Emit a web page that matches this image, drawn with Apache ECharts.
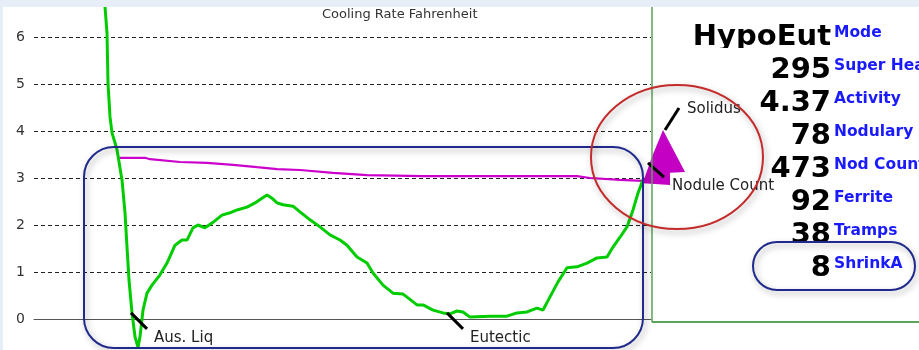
<!DOCTYPE html>
<html>
<head>
<meta charset="utf-8">
<script src="https://cdn.jsdelivr.net/npm/echarts@6/dist/echarts.min.js"></script>
<style>
html,body{margin:0;padding:0;background:#fff;overflow:hidden;width:919px;height:350px;}
#chart{position:absolute;left:0;top:-20px;width:919px;height:400px;}
</style>
</head>
<body>
<div id="chart"></div>
<script>
// ---- data ----
// cooling-rate curve (time index, °F per unit time)
const coolTime = [68,71,73,74,76,78,81,83,88,91,93,95,98,101,104,106,109,113,118,126,133,141,148,153,159,164,171,178,188,196,203,213,221,228,233,238,243,249,259,266,276,286,296,306,313,323,333,339,349,359,369,374,383,389,399,409,416,423,429,436,456,473,483,493,503,509,516,524,533,543,553,563,573,579,586,593,599,604,609];
const coolRate = [7.1,6.64,6.09,5.02,4.30,3.96,3.75,3.60,2.96,2.26,1.53,0.83,0.13,-0.38,-0.60,-0.38,0.19,0.55,0.72,0.94,1.19,1.57,1.68,1.68,1.94,2.00,1.94,2.04,2.21,2.26,2.32,2.38,2.47,2.57,2.64,2.57,2.47,2.43,2.40,2.28,2.11,1.96,1.79,1.68,1.57,1.32,1.19,0.98,0.72,0.55,0.53,0.45,0.30,0.30,0.19,0.13,0.11,0.17,0.15,0.04,0.06,0.06,0.13,0.15,0.23,0.19,0.47,0.79,1.09,1.11,1.19,1.30,1.32,1.53,1.74,1.96,2.32,2.68,2.96];
// magenta reference line
const refTime = [83,111,116,146,173,199,223,243,266,299,333,389,543,556,586,609];
const refRate = [3.43,3.43,3.40,3.34,3.32,3.28,3.23,3.19,3.17,3.11,3.06,3.04,3.04,3.00,2.96,2.94];
// small green tail after nodule count
const tailTime = [673,683,689,697];
const tailRate = [2.60,2.47,2.40,2.38];
// magenta solidus triangle
const triTime = [609,618,629,651,636,636,609];
const triRate = [2.91,3.45,4.02,3.13,3.11,2.85,2.89];
const triEdgeTime = [629,652];
const triEdgeRate = [4.02,3.13];
// event tick marks [x1,y1,x2,y2]
const tickNames = ['Aus. Liq','Eutectic','Solidus','Nodule Count'];
const tickMarks = [[97,0.13,113,-0.21],[413,0.13,429,-0.21],[631,4.02,645,4.49],[614,3.32,630,3.02]];
// y axis
const yMin = -1, yMax = 7, yStep = 1;
// results panel
const panelValues = ['HypoEut','295','4.37','78','473','92','38','8'];
const panelLabels = ['Mode','Super Heat','Activity','Nodulary','Nod Count','Ferrite','Tramps','ShrinkA'];
const chartTitle = 'Cooling Rate Fahrenheit';

// ---- build ----
const zip = (a,b)=>a.map((v,i)=>[v,b[i]]);
const chart = echarts.init(document.getElementById('chart'), null, {renderer:'canvas'});

const g = [];
// title
g.push({type:'text', z:50, style:{text:chartTitle, x:322, y:15, font:'13px "DejaVu Sans"', fill:'#333', verticalAlign:'middle'}});
// event labels
const lblPos = [[154,338],[470,338],[687,109],[672,186]];
tickNames.forEach((t,i)=>g.push({type:'text', z:50, style:{text:t, x:lblPos[i][0], y:lblPos[i][1], font:'15px "DejaVu Sans"', fill:'#222', verticalAlign:'middle'}}));
// panel border lines
g.push({type:'line', z:40, shape:{x1:652,y1:7,x2:652,y2:322}, style:{stroke:'#5aa55a', lineWidth:1.5}});
g.push({type:'line', z:40, shape:{x1:652,y1:322,x2:919,y2:322}, style:{stroke:'#5aa55a', lineWidth:2}});
// panel texts
panelValues.forEach((v,i)=>{
  const base = 47 + 33*i;
  g.push({type:'text', z:50, style:{text:v, x:831, y:base-10, font:'bold 29px "DejaVu Sans"', fill:'#000', align:'right', verticalAlign:'middle'}});
  g.push({type:'text', z:52, style:{text:panelLabels[i], x:834, y:base-14.5, font:'bold 15.5px "DejaVu Sans"', fill:'#1a1aff', align:'left', verticalAlign:'middle'}});
});
// clip HypoEut descenders
g.push({type:'rect', z:51, shape:{x:688,y:48,width:145,height:8}, style:{fill:'#fff'}});
// annotation shapes
const shadow = {shadowBlur:6, shadowColor:'rgba(0,0,0,0.35)', shadowOffsetX:2, shadowOffsetY:3};
g.push({type:'rect', z:60, shape:{x:84,y:147,width:559,height:201,r:30}, style:Object.assign({fill:'none', stroke:'#1f2a8c', lineWidth:2}, shadow)});
g.push({type:'ellipse', z:60, shape:{cx:677,cy:157,rx:86,ry:72}, style:Object.assign({fill:'none', stroke:'#c42a2a', lineWidth:2}, shadow)});
g.push({type:'rect', z:60, shape:{x:753,y:242,width:162,height:48,r:24}, style:Object.assign({fill:'none', stroke:'#1f2a8c', lineWidth:2}, shadow)});
// page margin strips
g.push({type:'rect', z:90, shape:{x:0,y:-20,width:919,height:27}, style:{fill:'#e8eef7'}});
g.push({type:'rect', z:90, shape:{x:0,y:-20,width:3,height:400}, style:{fill:'#e8eef7'}});
g.push({type:'rect', z:90, shape:{x:0,y:350,width:919,height:30}, style:{fill:'#ffffff'}});

const option = {
  animation:false,
  backgroundColor:'#fff',
  grid:{left:34, right:268, top:10, bottom:14},
  xAxis:{type:'value', min:0, max:617, axisLine:{show:true, onZero:true, lineStyle:{color:'#555', width:1}}, axisTick:{show:false}, axisLabel:{show:false}, splitLine:{show:false}},
  yAxis:{type:'value', min:yMin, max:yMax, interval:yStep, axisLine:{show:false}, axisTick:{show:false},
    axisLabel:{color:'#333', fontSize:14, fontFamily:'DejaVu Sans', margin:9},
    splitLine:{lineStyle:{color:'#222', type:[4,3], width:1}}},
  series:[
    {type:'line', name:'Reference', data:zip(refTime,refRate), showSymbol:false, symbol:'none', lineStyle:{color:'#cc00cc', width:2.2}, z:3},
    {type:'line', name:'Cooling Rate', data:zip(coolTime,coolRate), showSymbol:false, symbol:'none', lineStyle:{color:'#00cc00', width:3}, z:4},
    {type:'line', name:'Tail', data:zip(tailTime,tailRate), clip:false, showSymbol:false, symbol:'none', lineStyle:{color:'#00cc00', width:2.5}, z:4},
    {type:'custom', name:'Solidus', clip:false, z:5, data:[[0]], renderItem:function(params, api){
        const pts = triTime.map((x,i)=>api.coord([x, triRate[i]]));
        return {type:'polygon', shape:{points:pts}, style:{fill:'#c400c4'}};
      }},
    {type:'line', name:'Edge', data:zip(triEdgeTime,triEdgeRate), clip:false, showSymbol:false, symbol:'none', lineStyle:{color:'#00cc00', width:1.2}, z:6},
    {type:'custom', name:'Ticks', clip:false, z:7, data:tickMarks, renderItem:function(params, api){
        const a = api.coord([api.value(0), api.value(1)]);
        const b = api.coord([api.value(2), api.value(3)]);
        return {type:'line', shape:{x1:a[0],y1:a[1],x2:b[0],y2:b[1]}, style:{stroke:'#000', lineWidth:3}};
      }}
  ],
  graphic:[{type:'group', x:0, y:20, children:g}]
};
chart.setOption(option);
</script>
</body>
</html>
